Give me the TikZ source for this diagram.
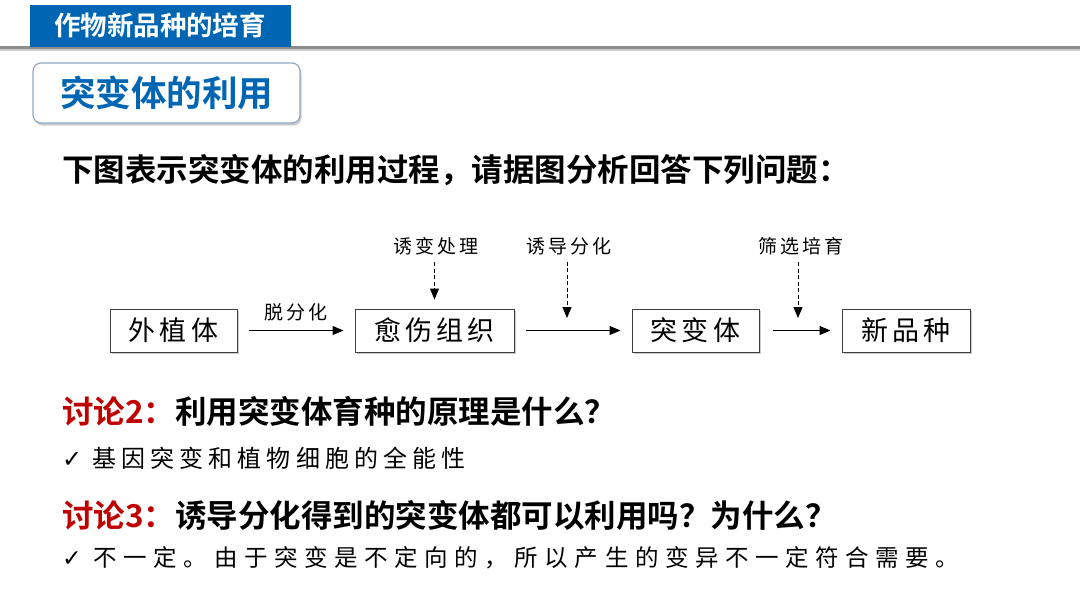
\documentclass[tikz,border=0pt]{standalone}
\usepackage{fontspec}
\usetikzlibrary{arrows.meta,shadows}
\newfontfamily\cjk{Noto Sans CJK SC}[BoldFont={Noto Sans CJK SC Bold}]
\newfontfamily\cjkl{Noto Sans CJK SC}[LetterSpace=15]
\newfontfamily\cjkw{Noto Sans CJK SC}[LetterSpace=21]
\newfontfamily\cjkx{Noto Sans CJK SC}[LetterSpace=28]
\newfontfamily\djv{DejaVu Sans}
\definecolor{titleblue}{RGB}{0,102,180}
\definecolor{darkred}{RGB}{192,0,0}
\definecolor{boxborder}{RGB}{140,170,200}
\tikzset{
  stepbox/.style={draw=black!75,line width=1pt,fill=white,minimum width=#1,minimum height=43pt,inner sep=0pt,
    font=\cjkl\fontsize{27}{27}\selectfont,
    drop shadow={shadow xshift=2pt,shadow yshift=-2pt,fill=black!35,opacity=0.6}},
  flow/.style={-{Triangle[length=11pt,width=9pt]},line width=1.2pt},
  dflow/.style={-{Triangle[length=11pt,width=9pt]},line width=1pt,dash pattern=on 4pt off 2.5pt},
  lbl/.style={font=\cjkl\fontsize{19}{19}\selectfont,inner sep=0pt},
  qtext/.style={font=\cjk\bfseries\fontsize{31.5}{31.5}\selectfont,anchor=west,inner sep=0pt},
  atext/.style={anchor=west,inner sep=0pt},
}
\begin{document}
\begin{tikzpicture}[x=1pt,y=-1pt]
\useasboundingbox (0,0) rectangle (1080,608);
% header
\fill[black!20] (0,48) rectangle (1080,51);
\fill[black!45] (0,46) rectangle (1080,48.5);
\fill[titleblue] (30,5) rectangle (291,46.5);
\node[font=\cjk\bfseries\fontsize{26.5}{26.5}\selectfont,text=white,inner sep=0pt] (title) at (160,25.5) {作物新品种的培育};
% section box
\node[draw=boxborder,line width=1.2pt,fill=white,rounded corners=8pt,minimum width=267pt,minimum height=60pt,
  drop shadow={shadow xshift=1.5pt,shadow yshift=-2.5pt,fill=black!40,opacity=0.5},
  font=\cjk\bfseries\fontsize{35.5}{35.5}\selectfont,text=titleblue] (sec) at (166.5,93) {突变体的利用};
% intro
\node[qtext] (intro) at (62,170) {下图表示突变体的利用过程，请据图分析回答下列问题：};
% flow boxes
\node[stepbox=127pt] (a) at (173.5,330.5) {外植体};
\node[stepbox=159pt] (b) at (434.5,330.5) {愈伤组织};
\node[stepbox=127pt] (c) at (695.5,330.5) {突变体};
\node[stepbox=128pt] (d) at (906,330.5) {新品种};
\coordinate (mid1) at (567,332);
\coordinate (mid2) at (798,332);
\draw[flow] ([xshift=11pt]a.east) -- node[lbl,above=9pt] {脱分化} ([xshift=-11pt]b.west);
\draw[flow] ([xshift=11pt]b.east) -- ([xshift=-11pt]c.west);
\draw[flow] ([xshift=13pt]c.east) -- ([xshift=-11pt]d.west);
% top labels
\node[lbl] (l1) at (436,246) {诱变处理};
\node[lbl] (l2) at (569,246) {诱导分化};
\node[lbl] (l3) at (801,246) {筛选培育};
\draw[dflow] ([yshift=-7pt]l1.south -| b.north) -- ([yshift=9pt]b.north);
\draw[dflow] ([yshift=-7pt]l2.south -| mid1) -- ([yshift=14pt]mid1);
\draw[dflow] ([yshift=-7pt]l3.south -| mid2) -- ([yshift=14pt]mid2);
% questions
\node[qtext] (q2) at (62,411) {\textcolor{darkred}{讨论2：}利用突变体育种的原理是什么？};
\node[atext,font=\cjkw\fontsize{24}{24}\selectfont] (a2) at (62,458) {{\djv ✓} 基因突变和植物细胞的全能性};
\node[qtext] (q3) at (62,515) {\textcolor{darkred}{讨论3：}诱导分化得到的突变体都可以利用吗？为什么？};
\node[atext,font=\cjkx\fontsize{23.5}{23.5}\selectfont] (a3) at (62,558) {{\djv ✓} 不一定。由于突变是不定向的，所以产生的变异不一定符合需要。};
\end{tikzpicture}
\end{document}
